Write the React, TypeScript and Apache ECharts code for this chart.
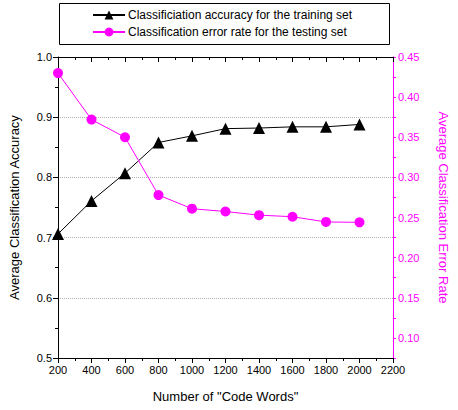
import React, { useEffect, useRef } from "react";
import * as echarts from "echarts";

const codeWords = [200, 400, 600, 800, 1000, 1200, 1400, 1600, 1800, 2000];
const trainAccuracy = [0.706, 0.761, 0.807, 0.858, 0.869, 0.881, 0.882, 0.884, 0.884, 0.888];
const testErrorRate = [0.430, 0.372, 0.350, 0.278, 0.261, 0.2575, 0.253, 0.251, 0.2445, 0.244];
const seriesNames = [
  "Classificiation accuracy for the training set",
  "Classification error rate for the testing set",
];

const FONT = "Liberation Sans";
const MAGENTA = "#ff00ff";

export default function App() {
  const ref = useRef<HTMLDivElement>(null);
  useEffect(() => {
    if (!ref.current) return;
    const chart = echarts.init(ref.current, undefined, { renderer: "svg" });
    chart.setOption({
      animation: false,
      backgroundColor: "#ffffff",
      textStyle: { fontFamily: FONT },
      grid: { left: 57, right: 50, top: 57, bottom: 52 },
      graphic: [
        {
          type: "rect",
          shape: { x: 59.5, y: 3.5, width: 330, height: 41 },
          style: { fill: "#fff", stroke: "#000", lineWidth: 1 },
          z: 0,
        },
      ],
      legend: {
        orient: "vertical",
        left: 92,
        top: 9,
        itemWidth: 32,
        itemHeight: 11,
        itemGap: 5,
        padding: 0,
        data: seriesNames,
        textStyle: { fontFamily: FONT, fontSize: 12, color: "#000", padding: [0, 0, 0, -2] },
        z: 5,
      },
      xAxis: [
        {
          type: "value",
          position: "bottom",
          min: 200,
          max: 2200,
          interval: 200,
          name: 'Number of "Code Words"',
          nameLocation: "middle",
          nameGap: 32,
          nameTextStyle: { fontSize: 13, color: "#000", fontFamily: FONT },
          axisLine: { show: true, lineStyle: { color: "#000", width: 1 } },
          axisTick: { show: true, inside: false, length: 5, lineStyle: { color: "#000" } },
          minorTick: { show: true, splitNumber: 2, length: 3, lineStyle: { color: "#000" } },
          axisLabel: {
            color: "#000",
            fontSize: 11,
            margin: 6,
            fontFamily: FONT,
            formatter: (v: number) => String(v),
          },
          splitLine: { show: false },
        },
        {
          type: "value",
          position: "top",
          min: 200,
          max: 2200,
          interval: 200,
          axisLine: { show: true, lineStyle: { color: "#000", width: 1 } },
          axisTick: { show: true, inside: true, length: 5, lineStyle: { color: "#000" } },
          minorTick: { show: true, splitNumber: 2, length: 3, lineStyle: { color: "#000" } },
          axisLabel: { show: false },
          splitLine: { show: false },
        },
      ],
      yAxis: [
        {
          type: "value",
          position: "left",
          min: 0.5,
          max: 1.0,
          interval: 0.1,
          name: "Average Classification Accuracy",
          nameLocation: "middle",
          nameGap: 37,
          nameTextStyle: { fontSize: 13, color: "#000", fontFamily: FONT },
          axisLine: { show: true, lineStyle: { color: "#000", width: 1 } },
          axisTick: { show: true, inside: false, length: 5, lineStyle: { color: "#000" } },
          minorTick: { show: true, splitNumber: 2, length: 3, lineStyle: { color: "#000" } },
          axisLabel: {
            color: "#000",
            fontSize: 11,
            margin: 6,
            fontFamily: FONT,
            formatter: (v: number) => v.toFixed(1),
          },
          splitLine: { show: true, lineStyle: { color: "#b0b0b0", type: "dotted", width: 1 } },
        },
        {
          type: "value",
          position: "right",
          min: 0.075,
          max: 0.45,
          interval: 0.025,
          name: "Average Classification Error Rate",
          nameLocation: "middle",
          nameRotate: -90,
          nameGap: 44,
          nameTextStyle: { fontSize: 13, color: MAGENTA, fontFamily: FONT },
          axisLine: { show: true, lineStyle: { color: MAGENTA, width: 1 } },
          axisTick: { show: true, inside: false, length: 3, lineStyle: { color: MAGENTA } },
          axisLabel: {
            color: MAGENTA,
            fontSize: 11,
            margin: 5,
            fontFamily: FONT,
            formatter: (v: number) =>
              Math.round(v * 1000) % 50 === 0 ? v.toFixed(2) : "",
          },
          splitLine: { show: false },
        },
      ],
      series: [
        {
          name: seriesNames[0],
          type: "line",
          xAxisIndex: 0,
          yAxisIndex: 0,
          data: codeWords.map((x, i) => [x, trainAccuracy[i]]),
          symbol: "triangle",
          symbolSize: 12,
          itemStyle: { color: "#000" },
          lineStyle: { color: "#000", width: 1 },
          z: 3,
        },
        {
          name: seriesNames[1],
          type: "line",
          xAxisIndex: 0,
          yAxisIndex: 1,
          data: codeWords.map((x, i) => [x, testErrorRate[i]]),
          symbol: "circle",
          symbolSize: 10,
          itemStyle: { color: MAGENTA },
          lineStyle: { color: MAGENTA, width: 1 },
          z: 3,
        },
      ],
    });
    return () => chart.dispose();
  }, []);
  return (
    <div
      ref={ref}
      style={{ position: "absolute", left: 0, top: 0, width: 458, height: 410 }}
    />
  );
}
